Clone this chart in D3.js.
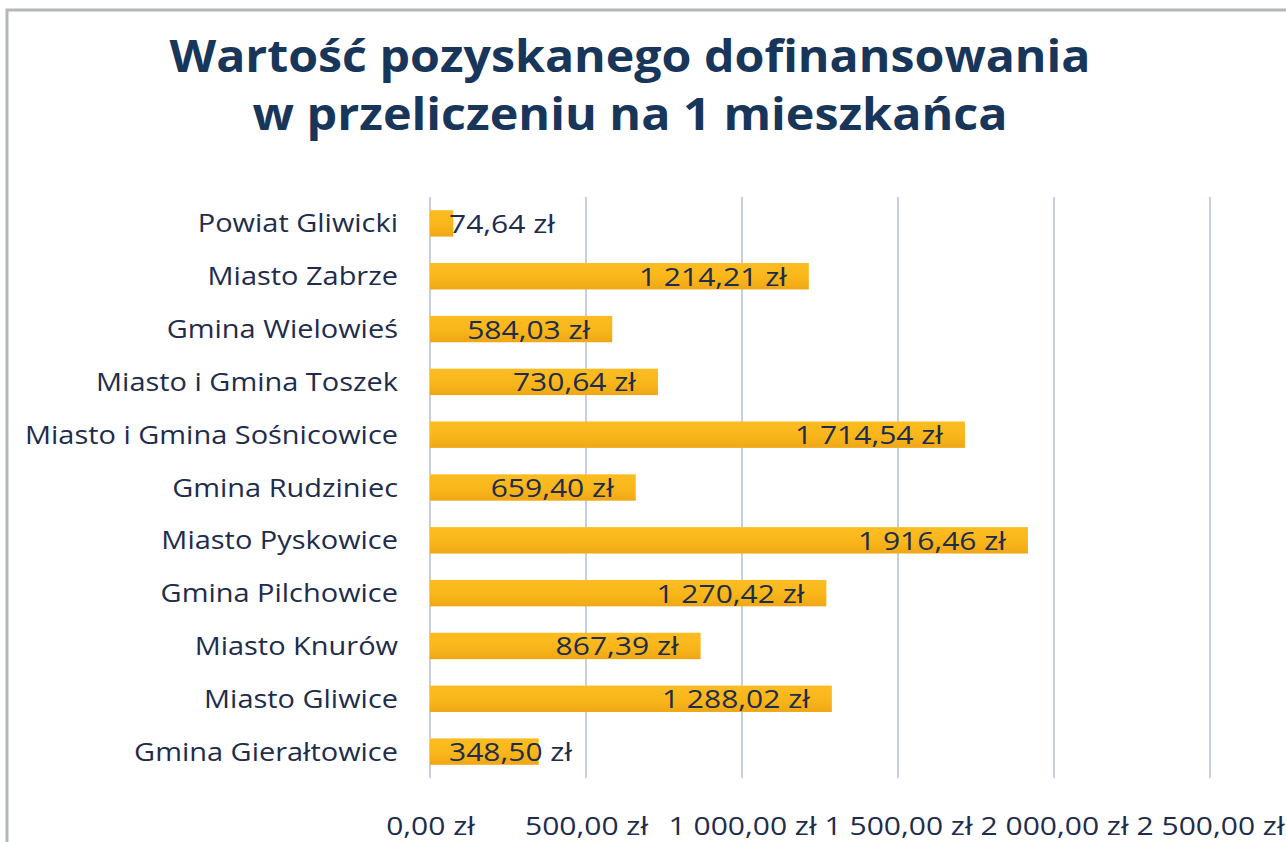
<!DOCTYPE html>
<html>
<head>
<meta charset="utf-8">
<script src="https://cdn.jsdelivr.net/npm/d3@7"></script>
<style>
  html, body { margin: 0; padding: 0; background: #ffffff; }
  svg { display: block; }
</style>
</head>
<body>
<svg id="chart" width="1286" height="842"></svg>
<script>
const categories = ["Powiat Gliwicki", "Miasto Zabrze", "Gmina Wielowieś", "Miasto i Gmina Toszek",
  "Miasto i Gmina Sośnicowice", "Gmina Rudziniec", "Miasto Pyskowice", "Gmina Pilchowice",
  "Miasto Knurów", "Miasto Gliwice", "Gmina Gierałtowice"];
const values = [74.64, 1214.21, 584.03, 730.64, 1714.54, 659.40, 1916.46, 1270.42, 867.39, 1288.02, 348.50];
const tickValues = [0, 500, 1000, 1500, 2000, 2500];
const titleLines = ["Wartość pozyskanego dofinansowania", "w przeliczeniu na 1 mieszkańca"];

const W = 1286, H = 842;
const plot = { left: 430, right: 1210, top: 197, bottom: 778 };
const navy = "#1e2c4d";
const titleColor = "#18355a";

const pl = d3.formatLocale({ decimal: ",", thousands: "\u00a0", grouping: [3], currency: ["", "\u00a0zł"] });
const fmt = v => pl.format(",.2f")(v) + "\u00a0zł";

const svg = d3.select("#chart");

// gradient for bars
const defs = svg.append("defs");
const grad = defs.append("linearGradient").attr("id", "barGrad").attr("x1", 0).attr("y1", 0).attr("x2", 0).attr("y2", 1);
grad.append("stop").attr("offset", "0%").attr("stop-color", "#fcbd22");
grad.append("stop").attr("offset", "55%").attr("stop-color", "#f9b61a");
grad.append("stop").attr("offset", "100%").attr("stop-color", "#efa716");

// frame border
svg.append("path")
  .attr("d", `M7,${H} L7,10 L${W},10`)
  .attr("fill", "none").attr("stroke", "#b3b8bb").attr("stroke-width", 3);

const x = d3.scaleLinear().domain([0, 2500]).range([plot.left, plot.right]);
const y = d3.scaleBand().domain(categories).range([plot.top, plot.bottom]).paddingInner(0.5).paddingOuter(0.25);

// gridlines
svg.append("g").selectAll("line").data(tickValues).join("line")
  .attr("x1", d => x(d)).attr("x2", d => x(d))
  .attr("y1", plot.top).attr("y2", plot.bottom)
  .attr("stroke", "#c6cee2").attr("stroke-width", 2);

// bars
svg.append("g").selectAll("rect").data(values).join("rect")
  .attr("x", x(0))
  .attr("y", (d, i) => y(categories[i]))
  .attr("width", d => x(d) - x(0))
  .attr("height", y.bandwidth())
  .attr("fill", "url(#barGrad)");

// helper: horizontal stretch to match reference proportions
function stretch(sel, k) {
  sel.each(function () {
    const w = this.getComputedTextLength();
    d3.select(this).attr("textLength", w * k).attr("lengthAdjust", "spacingAndGlyphs");
  });
}

// tick labels (axis)
const axisG = svg.append("g").attr("transform", `translate(0,${plot.bottom})`)
  .call(d3.axisBottom(x).tickValues(tickValues).tickSize(0).tickFormat(fmt));
axisG.select(".domain").remove();
axisG.selectAll("text")
  .attr("y", 57).attr("dy", 0)
  .attr("font-family", "'Open Sans', sans-serif")
  .attr("font-size", 26)
  .attr("fill", navy);

// measure value-label stretch from a tick label
const tickTexts = axisG.selectAll("text").nodes();
const kVal = 123 / tickTexts[1].getComputedTextLength();
stretch(axisG.selectAll("text"), kVal);

// category labels
const catG = svg.append("g");
const catTexts = catG.selectAll("text").data(categories).join("text")
  .attr("x", 398)
  .attr("y", d => y(d) + y.bandwidth() / 2 + 9)
  .attr("text-anchor", "end")
  .attr("font-family", "'Open Sans', sans-serif")
  .attr("font-size", 25)
  .attr("fill", navy)
  .text(d => d);
const longest = catTexts.nodes()[4].getComputedTextLength();
stretch(catTexts, 373 / longest);

// value labels
const valG = svg.append("g");
valG.selectAll("text").data(values).join("text")
  .attr("y", (d, i) => y(categories[i]) + y.bandwidth() / 2 + 9.5)
  .attr("font-family", "'Open Sans', sans-serif")
  .attr("font-size", 26)
  .attr("fill", navy)
  .text(d => fmt(d))
  .each(function (d) {
    const w = this.getComputedTextLength() * kVal;
    d3.select(this).attr("textLength", w).attr("lengthAdjust", "spacingAndGlyphs");
    const start = Math.max(x(d) - 22 - w, x(0) + 19);
    d3.select(this).attr("x", start);
  });

// title
const titleTargets = [921, 755];
const titleBase = [72, 130];
svg.append("g").selectAll("text").data(titleLines).join("text")
  .attr("x", 630)
  .attr("y", (d, i) => titleBase[i])
  .attr("text-anchor", "middle")
  .attr("font-family", "'Open Sans', sans-serif")
  .attr("font-weight", 700)
  .attr("font-size", 45)
  .attr("fill", titleColor)
  .text(d => d)
  .each(function (d, i) {
    d3.select(this).attr("textLength", titleTargets[i]).attr("lengthAdjust", "spacingAndGlyphs");
  });
</script>
</body>
</html>
